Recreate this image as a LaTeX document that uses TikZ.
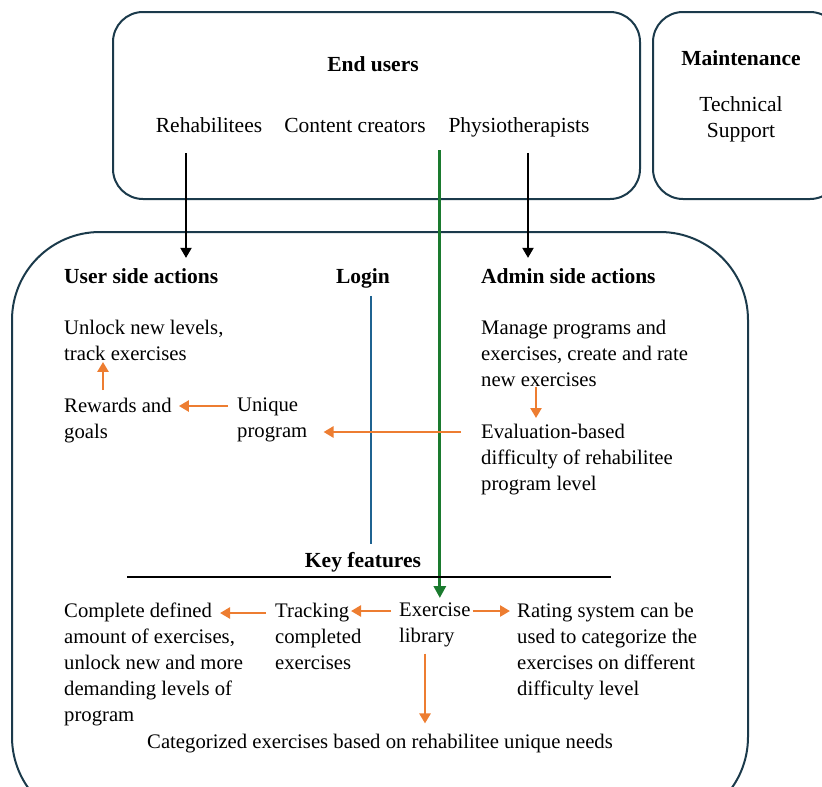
\documentclass[tikz,border=0pt]{standalone}
\usepackage{fontspec}
\setmainfont{Liberation Serif}
\usetikzlibrary{arrows.meta, positioning}

\definecolor{boxline}{HTML}{1B3A4B}
\definecolor{arrorange}{HTML}{ED7D31}
\definecolor{arrgreen}{HTML}{1A7A2E}
\definecolor{loginblue}{HTML}{1F6391}

\begin{document}
\begin{tikzpicture}[x=1pt, y=-1pt,
  box/.style={draw=boxline, line width=2pt, rounded corners=30pt},
  txt/.style={inner sep=0pt, font=\fontsize{21.5}{26}\selectfont, align=left},
  body/.style={inner sep=0pt, font=\fontsize{20.7}{26}\selectfont, align=left},
  hdr/.style={inner sep=0pt, font=\fontsize{21.5}{26}\selectfont\bfseries},
  blk/.style={-{Triangle[length=10pt,width=11pt]}, line width=2pt},
  org/.style={-{Triangle[length=10pt,width=11pt]}, line width=2.5pt, draw=arrorange, color=arrorange},
  grn/.style={-{Triangle[length=12pt,width=12pt]}, line width=3pt, draw=arrgreen, color=arrgreen}]
  \useasboundingbox (0,0) rectangle (822,787);
  \clip (0,0) rectangle (822,787);

  %Define boxes
  \node[box, minimum width=527pt, minimum height=187pt] (users_box) at (376.5,105.5) {};
  \node[box, minimum width=187pt, minimum height=187pt] (maint_box) at (746.5,105.5) {};
  \node[box, rounded corners=88pt, minimum width=736pt, minimum height=593pt] (app_box) at (380,528.5) {};

  %Define nodes
  \node[hdr, anchor=base] (end_users) at (373,71) {End users};
  \node[txt, anchor=base] (rehab) at (209,132) {Rehabilitees};
  \node[txt, anchor=base] (creators) at (355,132) {Content creators};
  \node[txt, anchor=base] (physio) at (519,132) {Physiotherapists};
  \node[hdr, anchor=base] (maint) at (741,65) {Maintenance};
  \node[txt, anchor=north, align=center] (tech) at (741,96) {Technical\\Support};

  \node[hdr, anchor=base west] (user_side) at (64,283) {User side actions};
  \node[hdr, anchor=base] (login) at (363,283) {Login};
  \node[hdr, anchor=base west] (admin_side) at (481,283) {Admin side actions};

  \node[body, anchor=north west] (unlock) at (64,320) {Unlock new levels,\\track exercises};
  \node[body, anchor=north west] (rewards) at (64,398) {Rewards and\\goals};
  \node[body, anchor=north west] (unique) at (237,398) {Unique\\program};
  \node[body, anchor=north west] (manage) at (481,320) {Manage programs and\\exercises, create and rate\\new exercises};
  \node[body, anchor=north west] (evaluation) at (481,424) {Evaluation-based\\difficulty of rehabilitee\\program level};

  \node[hdr, anchor=base] (key) at (363,567) {Key features};
  \node[body, anchor=north west] (complete) at (64,603) {Complete defined\\amount of exercises,\\unlock new and more\\demanding levels of\\program};
  \node[body, anchor=north west] (tracking) at (275,603) {Tracking\\completed\\exercises};
  \node[body, anchor=north west] (library) at (399,603) {Exercise\\library};
  \node[body, anchor=north west] (rating) at (517,603) {Rating system can be\\used to categorize the\\exercises on different\\difficulty level};
  \node[body, anchor=base] (categorized) at (380,748) {Categorized exercises based on rehabilitee unique needs};

  \coordinate (green_top) at (0,150);
  \coordinate (rule_l) at (127,577);
  \coordinate (rule_r) at (611,577);

  % Connect the nodes
  \draw[blk] ([xshift=-23pt,yshift=-21pt]rehab.south) -- ([xshift=-23pt,yshift=10pt]rehab.south |- user_side.north);
  \draw[blk] ([xshift=9pt,yshift=-16pt]physio.south) -- ([xshift=9pt,yshift=10pt]physio.south |- admin_side.north);
  \draw[grn] ([xshift=5pt]library.north |- green_top) -- ([xshift=5pt,yshift=5pt]library.north);
  \draw[loginblue, line width=2pt] ([xshift=8pt,yshift=-8pt]login.south) -- ([xshift=8pt,yshift=8pt]key.north);
  \draw[line width=1.2pt] (rule_l) -- (rule_r);

  \draw[org] ([xshift=39pt,yshift=8pt]rewards.north west) -- ([xshift=39pt,yshift=-1pt]unlock.south west);
  \draw[org] ([xshift=-9pt,yshift=-8pt]unique.north west) -- ([xshift=7pt,yshift=-8pt]rewards.north east);
  \draw[org] ([xshift=-20pt,yshift=-8pt]evaluation.north west) -- ([xshift=16pt,yshift=-34pt]unique.north east);
  \draw[org] ([xshift=55pt]manage.south west) -- ([xshift=55pt,yshift=6pt]evaluation.north west);

  \draw[org] ([xshift=-8pt,yshift=-8pt]library.north west) -- ([xshift=76pt,yshift=-8pt]tracking.north west);
  \draw[org] ([xshift=-9pt,yshift=-10pt]tracking.north west) -- ([xshift=156pt,yshift=-10pt]complete.north west);
  \draw[org] ([xshift=2pt,yshift=-8pt]library.north east) -- ([xshift=-7pt,yshift=-8pt]rating.north west);
  \draw[org] ([xshift=26pt,yshift=-6pt]library.south west) -- ([xshift=26pt,yshift=10pt]library.south west |- categorized.north);

\end{tikzpicture}
\end{document}
